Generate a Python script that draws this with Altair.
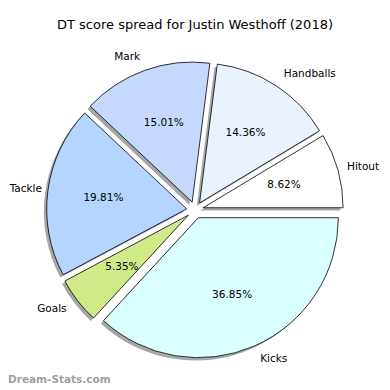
import math
import altair as alt
import pandas as pd

categories = ["Hitout", "Handballs", "Mark", "Tackle", "Goals", "Kicks"]
values = [8.62, 14.36, 15.01, 19.81, 5.35, 36.85]
colors = ["#ffffff", "#eaf1ff", "#c5d9ff", "#b3d5ff", "#d0ea8a", "#d9ffff"]
order = [0, 1, 2, 3, 4, 5]

df = pd.DataFrame({"category": categories, "value": values, "order": order})

W, H, R = 374, 344, 140
EXPLODE = 0.06
SHADOW = 0.02
xdom = W / 2 / R
ydom = H / 2 / R
TAU = 2 * math.pi
LMIN = (34 - W / 2) / R   # keep right-aligned labels inside the page
LMAX = (W - 1 - 34 - W / 2) / R  # keep left-aligned labels inside the page

base = alt.Chart(df).transform_window(
    cum_end="sum(value)", sort=[alt.SortField("order")], frame=[None, 0]
).transform_calculate(
    cum_start="datum.cum_end - datum.value",
    mid=f"{TAU} * (datum.cum_end - datum.value / 2) / 100",
).transform_calculate(
    ex=f"{EXPLODE} * cos(datum.mid)",
    ey=f"{EXPLODE} * sin(datum.mid)",
    sx=f"{EXPLODE} * cos(datum.mid) - {SHADOW}",
    sy=f"{EXPLODE} * sin(datum.mid) - {SHADOW}",
    lx0=f"({EXPLODE} + 1.1) * cos(datum.mid)",
    ly=f"({EXPLODE} + 1.1) * sin(datum.mid)",
    px=f"({EXPLODE} + 0.6) * cos(datum.mid)",
    py=f"({EXPLODE} + 0.6) * sin(datum.mid)",
    pct="format(datum.value, '.2f') + '%'",
).transform_calculate(
    lx=f"datum.lx0 <= 0 ? max(datum.lx0, {LMIN}) : min(datum.lx0, {LMAX})"
)

xs = alt.Scale(domain=[-xdom, xdom])
ys = alt.Scale(domain=[-ydom, ydom])
theta_scale = alt.Scale(domain=[0, 100], range=[math.pi / 2, math.pi / 2 - TAU])

shadows = base.mark_arc(radius=R, fill="#4d4d4d", opacity=0.5).encode(
    theta=alt.Theta("cum_start:Q", stack=False, scale=theta_scale),
    theta2="cum_end:Q",
    x=alt.X("sx:Q", scale=xs, axis=None),
    y=alt.Y("sy:Q", scale=ys, axis=None),
)

wedges = base.mark_arc(radius=R, stroke="black", strokeWidth=0.8).encode(
    theta=alt.Theta("cum_start:Q", stack=False, scale=theta_scale),
    theta2="cum_end:Q",
    x=alt.X("ex:Q", scale=xs, axis=None),
    y=alt.Y("ey:Q", scale=ys, axis=None),
    fill=alt.Fill("category:N", scale=alt.Scale(domain=categories, range=colors), legend=None),
)

label_style = dict(font="DejaVu Sans", fontSize=10.5, color="black", baseline="middle")

labels_right = base.transform_filter("datum.lx0 > 0").mark_text(align="left", **label_style).encode(
    x=alt.X("lx:Q", scale=xs, axis=None),
    y=alt.Y("ly:Q", scale=ys, axis=None),
    text="category:N",
)
labels_left = base.transform_filter("datum.lx0 <= 0").mark_text(align="right", **label_style).encode(
    x=alt.X("lx:Q", scale=xs, axis=None),
    y=alt.Y("ly:Q", scale=ys, axis=None),
    text="category:N",
)
pcts = base.mark_text(align="center", **label_style).encode(
    x=alt.X("px:Q", scale=xs, axis=None),
    y=alt.Y("py:Q", scale=ys, axis=None),
    text="pct:N",
)

watermark = alt.Chart(pd.DataFrame({"t": ["Dream-Stats.com"]})).mark_text(
    align="left", baseline="alphabetic", font="DejaVu Sans", fontSize=10.5,
    fontWeight="bold", color="#a0a0a0",
).encode(x=alt.value(0), y=alt.value(345), text="t:N")

chart = alt.layer(shadows, wedges, labels_right, labels_left, pcts, watermark).properties(
    width=W,
    height=H,
    padding={"left": 0, "top": 30, "right": 0, "bottom": 8},
    autosize=alt.AutoSizeParams(type="none"),
    title=alt.TitleParams(
        "DT score spread for Justin Westhoff (2018)",
        font="DejaVu Sans", fontSize=13, fontWeight="normal", color="black",
        baseline="alphabetic", offset=8, dy=12, anchor="middle",
    ),
).configure_view(stroke=None)

chart.save("out.html", embed_options={"renderer": "svg", "actions": False})
